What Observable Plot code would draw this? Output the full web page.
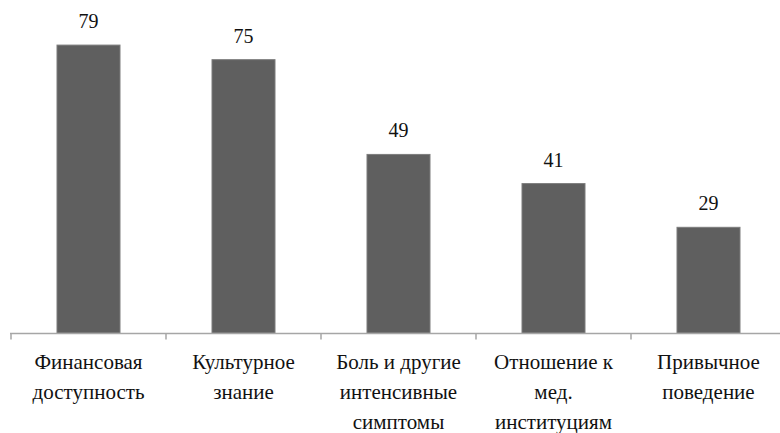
<!DOCTYPE html>
<html>
<head>
<meta charset="utf-8">
<script src="https://cdn.jsdelivr.net/npm/d3@7"></script>
<script src="https://cdn.jsdelivr.net/npm/@observablehq/plot@0.6"></script>
<style>
  html, body { margin: 0; padding: 0; background: #fff; }
  #chart svg { display: block; }
</style>
</head>
<body>
<div id="chart"></div>
<script>
// Factors, with their share (%)
const categories = [
  "Финансовая\nдоступность",
  "Культурное\nзнание",
  "Боль и другие\nинтенсивные\nсимптомы",
  "Отношение к\nмед.\nинституциям",
  "Привычное\nповедение"
];
const values = [79, 75, 49, 41, 29];

const data = categories.map((c, i) => ({category: c, value: values[i]}));

const FONT = "Liberation Serif";
const AXIS = "#a6a6a6";
const FS = 21;

// Baseline with short ticks at the boundaries between category bands
function bandTicks(index, scales, channels, dimensions) {
  const x = scales.x, y = scales.y;
  const step = x.step(), bw = x.bandwidth();
  const half = (step - bw) / 2;
  const y0 = y(0);
  const bounds = categories.map(c => x(c) - half);
  bounds.push(x(categories[categories.length - 1]) + bw + half);
  const g = d3.create("svg:g");
  g.append("line")
    .attr("x1", dimensions.marginLeft)
    .attr("x2", dimensions.width - dimensions.marginRight)
    .attr("y1", y0 + 0.5).attr("y2", y0 + 0.5)
    .attr("stroke", AXIS).attr("stroke-width", 1.5);
  for (const b of bounds) {
    g.append("line")
      .attr("x1", b).attr("x2", b)
      .attr("y1", y0).attr("y2", y0 + 6.5)
      .attr("stroke", AXIS).attr("stroke-width", 1.5);
  }
  return g.node();
}

// Value labels above the bars and wrapped category labels under the axis
function labels(index, scales) {
  const x = scales.x, y = scales.y;
  const bw = x.bandwidth();
  const g = d3.create("svg:g")
    .attr("font-family", FONT)
    .attr("fill", "#111")
    .attr("text-anchor", "middle");
  g.selectAll("text.value")
    .data(data)
    .join("text")
    .attr("class", "value")
    .attr("x", d => x(d.category) + bw / 2)
    .attr("y", d => y(d.value) - 17)
    .attr("font-size", 20)
    .attr("font-family", FONT)
    .text(d => String(d.value));
  const y0 = y(0);
  for (const c of categories) {
    const t = g.append("text")
      .attr("font-size", FS)
      .attr("font-family", FONT)
      .attr("x", x(c) + bw / 2)
      .attr("y", y0 + 36);
    c.split("\n").forEach((line, i) => {
      t.append("tspan")
        .attr("x", x(c) + bw / 2)
        .attr("dy", i === 0 ? 0 : 30)
        .text(line);
    });
  }
  return g.node();
}

const chart = Plot.plot({
  width: 780,
  height: 433,
  marginTop: 5,
  marginBottom: 100,
  marginLeft: 10,
  marginRight: 0,
  x: {domain: categories, range: [10, 787.5], paddingInner: 0.595, paddingOuter: 0.2975, axis: null},
  y: {domain: [0, 90], axis: null},
  marks: [
    Plot.barY(data, {x: "category", y: "value", fill: "#5f5f5f", stroke: "#7d7d7d", strokeWidth: 1}),
    bandTicks,
    labels
  ]
});

d3.select(chart).attr("font-family", FONT);

document.getElementById("chart").appendChild(chart);
</script>
</body>
</html>
